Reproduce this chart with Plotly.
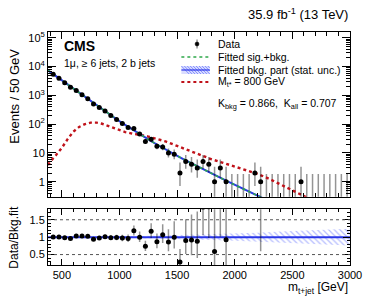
import math
import plotly.graph_objects as go

# ---------------- data ----------------
mass_bins = list(range(425, 3000, 50))  # bin centres, 50 GeV bins
data_counts = [5480, 3930, 2750, 1930, 1480, 1060, 760, 505, 380, 285,
               201, 146, 105, 77, 71, 45, 25, 30, 17, 16,
               10, 9, 2, 5, 4, 3, 5, 4, 1, 3,
               1, 0, 0, 0, 0, 2, 1, 0, 0, 0,
               0, 0, 0, 1, 0, 0, 0, 0, 0, 0,
               0, 0]

fit_mass = [380] + list(range(425, 2300, 50))
bkg_fit = [7380, 5465, 3912, 2802, 2007, 1437, 1029, 741, 537, 389, 282,
           204, 148, 108, 80, 60, 45, 34, 25.7, 19.6, 15.0,
           11.6, 9.0, 7.04, 5.53, 4.34, 3.41, 2.69, 2.14, 1.70, 1.35,
           1.08, 0.866, 0.696, 0.559, 0.449, 0.361, 0.290, 0.233]
sigbkg_fit = bkg_fit

sig_mass = [380, 400, 450, 500, 550, 600, 650, 700, 750, 800, 850, 900, 950,
            1000, 1050, 1100, 1150, 1200, 1250, 1300, 1400, 1500, 1600, 1700,
            1800, 1900, 2000, 2100, 2200, 2300, 2400, 2500, 2600, 2700]
sig_800 = [3.8, 5.0, 8.5, 15, 30, 55, 80, 100, 113, 113, 103, 88, 73,
           61, 53, 48, 45, 41, 37, 33, 25, 17.5, 12, 8.3,
           6.0, 4.5, 3.4, 2.5, 1.85, 1.25, 0.8, 0.5, 0.32, 0.2]

unc_mass = [380, 600, 800, 1000, 1200, 1400, 1600, 1800, 2000, 2200, 2400, 2600, 2800, 3000]
bkg_rel_unc = [0.025, 0.02, 0.015, 0.02, 0.035, 0.05, 0.065, 0.085, 0.105, 0.13, 0.16, 0.185, 0.21, 0.24]

# Garwood 68% Poisson intervals for small counts
garwood_lo = [0.0, 0.173, 0.708, 1.367, 2.086, 2.840, 3.620, 4.419, 5.232, 6.057, 6.891]
garwood_hi = [1.841, 3.300, 4.638, 5.918, 7.163, 8.382, 9.584, 10.77, 11.95, 13.11, 14.27]


def interval(n):
    if n <= 10:
        return garwood_lo[n], garwood_hi[n]
    s = math.sqrt(n + 0.25)
    return n + 0.5 - s, n + 0.5 + s


FONT = "Liberation Sans, Arial, Helvetica, sans-serif"
W, H = 374, 296
ML, MR, MT, MB = 48, 18, 32, 31
PW, PH = W - ML - MR, H - MT - MB


def px(x):
    return (x - ML) / PW


def py(y):
    return (H - MB - y) / PH


ERR = "rgba(0,0,0,0.42)"
BLUE = "#2a36e8"
GREEN = "#2ea84a"
RED = "#c0121a"

fig = go.Figure()

# empty bins: error bars from 0 up to 1.84
ex = [c for c, n in zip(mass_bins, data_counts) if n == 0]
ey = [interval(0)[1] for _ in ex]
fig.add_trace(go.Scatter(
    x=ex, y=ey, mode="markers", marker=dict(size=1, opacity=0),
    error_y=dict(type="data", symmetric=False, array=[0] * len(ex),
                 arrayminus=[v - 1e-4 for v in ey], color=ERR, thickness=1.5, width=0),
    xaxis="x", yaxis="y", hoverinfo="skip"))

# signal
fig.add_trace(go.Scatter(x=sig_mass, y=sig_800, mode="lines",
                         line=dict(color=RED, width=2.4, dash="dot"),
                         xaxis="x", yaxis="y"))
# background fit
fig.add_trace(go.Scatter(x=fit_mass, y=bkg_fit, mode="lines",
                         line=dict(color=BLUE, width=2),
                         xaxis="x", yaxis="y"))
fig.add_trace(go.Scatter(x=fit_mass, y=sigbkg_fit, mode="lines",
                         line=dict(color=GREEN, width=1.6, dash="dot"),
                         xaxis="x", yaxis="y"))

# data
dx, dy, dlo, dhi = [], [], [], []
for c, n in zip(mass_bins, data_counts):
    if n > 0:
        lo, hi = interval(n)
        dx.append(c); dy.append(n); dlo.append(n - lo); dhi.append(hi - n)
fig.add_trace(go.Scatter(
    x=dx, y=dy, mode="markers", marker=dict(color="black", size=5),
    error_y=dict(type="data", symmetric=False, array=dhi, arrayminus=dlo,
                 color=ERR, thickness=1.5, width=0),
    xaxis="x", yaxis="y"))

# ratio panel: band
band_x = unc_mass + unc_mass[::-1]
band_y = [1 + u for u in bkg_rel_unc] + [1 - u for u in bkg_rel_unc[::-1]]
fig.add_trace(go.Scatter(
    x=band_x, y=band_y, mode="lines", fill="toself",
    line=dict(width=0, color="rgba(0,0,0,0)"),
    fillcolor="rgba(0,0,0,0)",
    fillpattern=dict(shape="\\", fgcolor="#6a78ff", bgcolor="rgba(255,255,255,0)",
                     size=4, solidity=0.3),
    xaxis="x2", yaxis="y2", hoverinfo="skip"))
fig.add_trace(go.Scatter(x=unc_mass, y=[1] * len(unc_mass), mode="lines",
                         line=dict(color=BLUE, width=2), xaxis="x2", yaxis="y2"))

rx, ry, rlo, rhi = [], [], [], []
for i, (c, n) in enumerate(zip(mass_bins, data_counts)):
    if n > 0 and i + 1 < len(bkg_fit):
        f = bkg_fit[i + 1]
        lo, hi = interval(n)
        rx.append(c); ry.append(n / f); rlo.append((n - lo) / f); rhi.append((hi - n) / f)
fig.add_trace(go.Scatter(
    x=rx, y=ry, mode="markers", marker=dict(color="black", size=5),
    error_y=dict(type="data", symmetric=False, array=rhi, arrayminus=rlo,
                 color=ERR, thickness=1.5, width=0),
    xaxis="x2", yaxis="y2"))

axis_common = dict(showline=True, linecolor="black", linewidth=1, mirror="ticks",
                   ticks="inside", tickcolor="black", showgrid=False, zeroline=False)

y_minor = [m * 10 ** e for e in range(-1, 6) for m in range(2, 10)]

fig.update_layout(
    width=W, height=H, margin=dict(l=ML, r=MR, t=MT, b=MB),
    paper_bgcolor="white", plot_bgcolor="white", showlegend=False,
    font=dict(family=FONT, size=11, color="black"),
    xaxis=dict(domain=[0, 1], anchor="y", range=[380, 3000], tick0=0, dtick=500,
               ticklen=7, showticklabels=False,
               minor=dict(ticks="inside", dtick=100, ticklen=4, tickcolor="black"),
               **axis_common),
    yaxis=dict(domain=[0.2931, 1], anchor="x", type="log", range=[-0.523, 5.204],
               tickvals=[1, 10, 100, 1e3, 1e4, 1e5],
               ticktext=["1", "10", "10<sup>2</sup>", "10<sup>3</sup>", "10<sup>4</sup>", "10<sup>5</sup>"],
               ticklen=8, tickfont=dict(size=11),
               minor=dict(ticks="inside", tickvals=y_minor, ticklen=4, tickcolor="black"),
               **axis_common),
    xaxis2=dict(domain=[0, 1], anchor="y2", range=[380, 3000], tick0=0, dtick=500,
                ticklen=6, tickfont=dict(size=11),
                minor=dict(ticks="inside", dtick=100, ticklen=3, tickcolor="black"),
                **axis_common),
    yaxis2=dict(domain=[0, 0.239], anchor="x2", range=[0.2, 1.8],
                tickvals=[0.5, 1, 1.5], ticktext=["0.5", "1", "1.5"], ticklen=7,
                tickfont=dict(size=11),
                minor=dict(ticks="inside", dtick=0.1, ticklen=3, tickcolor="black"),
                **axis_common),
)

# ratio reference lines
for lvl in (0.5, 1.5):
    fig.add_shape(type="line", xref="x2 domain", yref="y2", x0=0, x1=1, y0=lvl, y1=lvl,
                  line=dict(color="#555555", width=1, dash="dot"))

ann = []
ann.append(dict(text="35.9 fb<sup>-1</sup> (13 TeV)", x=1.0, y=py(14), xanchor="right",
                yanchor="middle", font=dict(size=13)))
ann.append(dict(text="<b>CMS</b>", x=px(62), y=py(46), xanchor="left", yanchor="middle",
                font=dict(size=14)))
ann.append(dict(text="1μ, ≥ 6 jets, 2 b jets", x=px(62), y=py(63), xanchor="left",
                yanchor="middle", font=dict(size=10.5)))
leg_rows = [("Data", 44), ("Fitted sig.+bkg.", 57), ("Fitted bkg. part (stat. unc.)", 70),
            ("M<sub>t*</sub> = 800 GeV", 82)]
for t, yy in leg_rows:
    ann.append(dict(text=t, x=px(219), y=py(yy), xanchor="left", yanchor="middle",
                    font=dict(size=10.5)))
ann.append(dict(text="K<sub>bkg</sub> = 0.866,  K<sub>all</sub> = 0.707", x=px(219), y=py(104),
                xanchor="left", yanchor="middle", font=dict(size=10.5)))
ann.append(dict(text="m<sub>t+jet</sub> [GeV]", x=1.0, y=py(287.5), xanchor="right",
                yanchor="middle", font=dict(size=12)))
ann.append(dict(text="Events / 50 GeV", x=px(13), y=py(96), xanchor="center", yanchor="middle",
                textangle=-90, font=dict(size=13)))
ann.append(dict(text="Data/Bkg.fit", x=px(13), y=py(237), xanchor="center", yanchor="middle",
                textangle=-90, font=dict(size=12)))
for a in ann:
    a.update(xref="paper", yref="paper", showarrow=False)
fig.update_layout(annotations=ann)

# legend glyphs (decoration)
shapes = []
shapes.append(dict(type="line", x0=px(200), x1=px(200), y0=py(39.5), y1=py(48.5),
                   line=dict(color=ERR, width=1.5)))
shapes.append(dict(type="circle", x0=px(198), x1=px(202), y0=py(46), y1=py(42),
                   fillcolor="black", line=dict(color="black", width=0.5)))
shapes.append(dict(type="line", x0=px(184), x1=px(213), y0=py(57), y1=py(57),
                   line=dict(color=GREEN, width=1.5, dash="dot")))
shapes.append(dict(type="rect", x0=px(184), x1=px(213), y0=py(74), y1=py(66),
                   fillcolor="rgba(106,120,255,0.25)", line=dict(width=0)))
for k in range(0, 30, 3):
    shapes.append(dict(type="line", x0=px(184 + k), x1=px(min(184 + k + 8, 213)), y0=py(66),
                       y1=py(66 + min(8, 213 - 184 - k)),
                       line=dict(color="#6a78ff", width=0.8)))
shapes.append(dict(type="line", x0=px(184), x1=px(213), y0=py(70), y1=py(70),
                   line=dict(color=BLUE, width=1.2)))
shapes.append(dict(type="line", x0=px(184), x1=px(213), y0=py(82), y1=py(82),
                   line=dict(color=RED, width=2, dash="dot")))
for s in shapes:
    s.update(xref="paper", yref="paper")
    fig.add_shape(**s)

fig.write_html("out.html", config={"displayModeBar": False},
               post_script="document.body.style.margin='0';")
